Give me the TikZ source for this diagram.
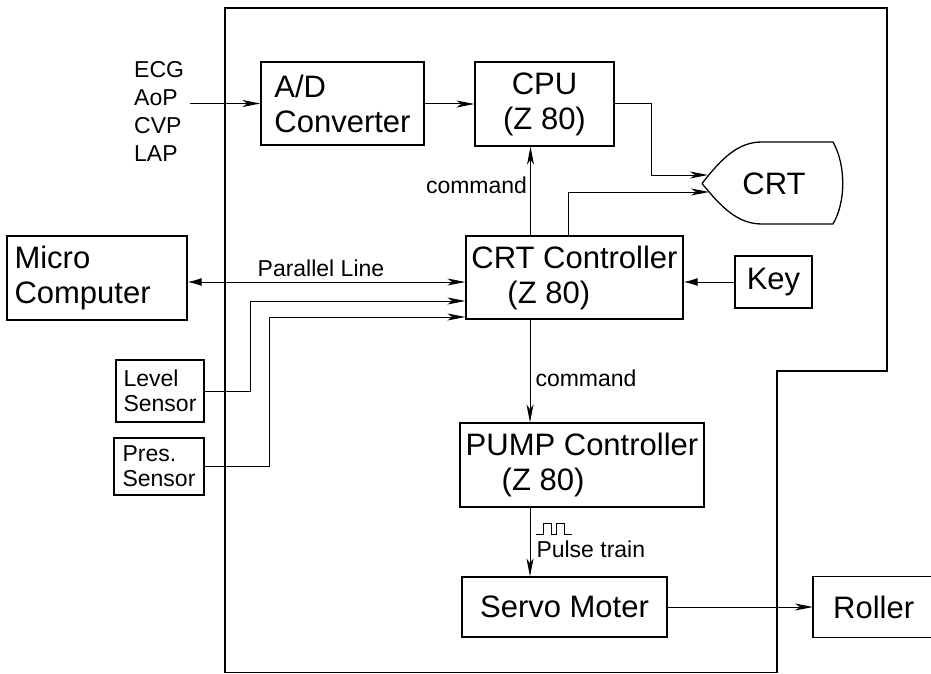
\documentclass[tikz,border=0pt]{standalone}
\usepackage{fontspec}
\setmainfont{Liberation Sans}
\usetikzlibrary{arrows.meta,positioning,calc}
\tikzset{
  barb/.tip={Stealth[length=18pt, width=7pt, inset=5pt]},
  fat/.tip={Latex[length=14pt, width=8pt]}
}

\begin{document}
\begin{tikzpicture}[
  x=1pt, y=-1pt,
  >=barb,
  font=\fontsize{31}{35}\selectfont,
  box/.style={draw=black, line width=1.3pt, inner sep=0pt, align=left},
  sensor/.style={box, font=\fontsize{23}{25}\selectfont},
  sig/.style={->, line width=1pt, draw=black},
  lbl/.style={font=\fontsize{23}{28}\selectfont, inner sep=0pt},
  frame/.style={draw=black, line width=1.1pt}
]
\useasboundingbox (0,0) rectangle (931,674);

% ==================== Frame ====================
\draw[frame] (225,8) -- (887,8) -- (887,371) -- (777,371)
  -- (777,672.5) -- (225,672.5) -- cycle;

% ==================== Nodes ====================
\node[lbl, align=left, anchor=west] (inputs) at (134,111)
  {ECG\\AoP\\CVP\\LAP};
\node[box, minimum width=163, minimum height=83] (ad) at (342.5,103.5)
  {A/D\\Converter};
\node[box, align=center, minimum width=139, minimum height=84] (cpu) at (544.5,104)
  {CPU\\(Z 80)};
\node (crt) at (774,184) {CRT};
\node[box, minimum width=217, minimum height=83] (crtctl) at (574.5,277.5)
  {CRT Controller\\\hspace*{36pt}(Z 80)};
\node[box, text width=165, minimum width=180, minimum height=84] (micro) at (97,278)
  {Micro\\Computer};
\node[box, align=center, minimum width=77, minimum height=52] (key) at (773.5,282)
  {Key};
\node[sensor, minimum width=88, minimum height=62] (level) at (160,391)
  {Level\\Sensor};
\node[sensor, minimum width=90, minimum height=57] (pres) at (159,466.5)
  {Pres.\\Sensor};
\node[box, minimum width=244, minimum height=84] (pump) at (582,465)
  {PUMP Controller\\\hspace*{36pt}(Z 80)};
\node[box, align=center, minimum width=205, minimum height=60] (servo) at (564.5,607)
  {Servo Moter};
\node[anchor=west, inner xsep=20pt, minimum height=60] (roller) at (813,607)
  {Roller};

% CRT outline (open at the left, tube face at the right)
\begin{scope}[shift={(crt.center)}]
  \draw[box] (-72,-0.5) .. controls (-52,-26) and (-36,-42) .. (-12,-42)
    -- (59,-42) .. controls (72,-19) and (72,18) .. (59,40)
    -- (-12,40) .. controls (-36,40) and (-52,24) .. (-72,-0.5);
  \coordinate (crtinA) at (-66,-9);
  \coordinate (crtinB) at (-65,8);
\end{scope}

% Roller box runs off the page
\draw[box] ($(roller.north west)+(118,0)$) -- (roller.north west)
  -- (roller.south west) -- ($(roller.south west)+(118,0)$);

% ==================== Signals ====================
\draw[sig] ([xshift=6pt]inputs.east |- ad.west) -- (ad.west);
\draw[sig] (ad.east |- cpu.west) -- (cpu.west);
\draw[sig] (cpu.east) -- ++(37,0) |- (crtinA);
\draw[sig] ([xshift=-6.5pt]crtctl.north) |- (crtinB);

% command to CPU
\draw[sig] ([xshift=-44pt]crtctl.north) coordinate (cmdup)
  -- (cmdup |- cpu.south)
  node[lbl, left=3pt, pos=0.57] {command};

% Parallel line to the micro computer
\draw[sig, fat-barb] (micro.east |- key.west) -- (crtctl.west |- key.west)
  node[lbl, above=5pt, pos=0.48] {Parallel Line};
\draw[sig, -fat] (key.west) -- (key.west -| crtctl.east);

% sensors
\draw[sig] (level.east) -- ++(46,0) |- ([yshift=-23.5pt]crtctl.west);
\draw[sig] (pres.east) -- ++(65,0) |- ([yshift=-39.5pt]crtctl.west);

% command to pump controller
\draw[sig] ([xshift=-44.5pt]crtctl.south) coordinate (cmddown)
  -- (cmddown |- pump.north)
  node[lbl, right=5pt, pos=0.57] {command};

% pulse train to servo
\draw[sig] (cmddown |- pump.south) -- (cmddown |- servo.north)
  node[lbl, right=6pt, pos=0.6] (pulse) {Pulse train};
\draw[line width=0.8pt] ([yshift=6pt]pulse.north west) -- ++(7,0) -- ++(0,-11)
  -- ++(8,0) -- ++(0,11) -- ++(5,0) -- ++(0,-11) -- ++(8,0) -- ++(0,11)
  -- ++(8,0);

\draw[sig] (servo) -- (roller.west);

\end{tikzpicture}
\end{document}
